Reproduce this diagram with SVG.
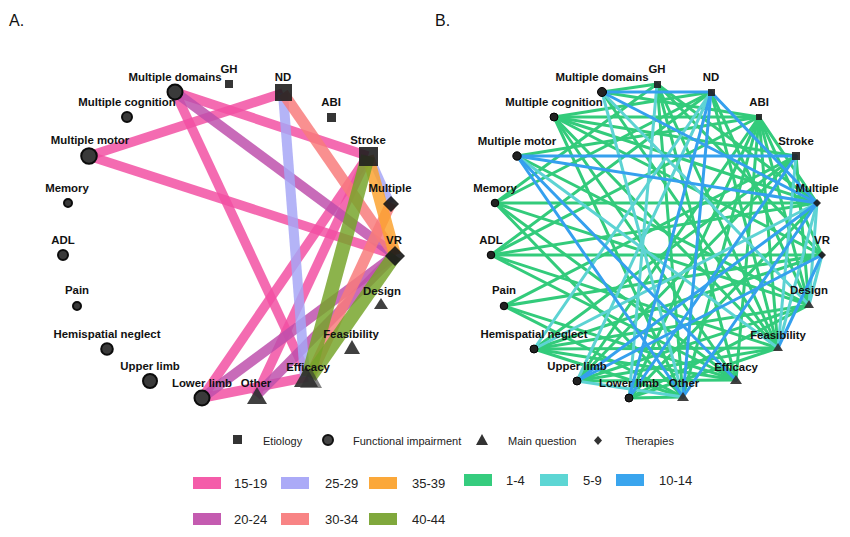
<svg xmlns="http://www.w3.org/2000/svg" width="850" height="537" viewBox="0 0 850 537">
<style>
text{font-family:"Liberation Sans",Arial,sans-serif;fill:#111}
.lb{font-size:11.4px;font-weight:bold;text-anchor:middle}
.ttl{font-size:16px}
.lg{font-size:11px;fill:#222}
.lr{font-size:13px;fill:#222}
.ea line{stroke-opacity:.84;stroke-linecap:butt}
.p1{stroke:#f24fa2;stroke-width:9.5}
.p2{stroke:#bd4fab;stroke-width:10}
.p3{stroke:#a6a6f6;stroke-width:10}
.p4{stroke:#f87b7b;stroke-width:11}
.p5{stroke:#fba22e;stroke-width:12}
.p6{stroke:#76a42a;stroke-width:14}
.eb line{stroke-width:3;stroke-linecap:round}
.g{stroke:#33cb7b}
.t{stroke:#5dd3d3}
.b{stroke:#35a0ee;stroke-width:3.5}
.ci{fill:#3a3a3a;stroke:#0c0c0c;stroke-width:2}
.sq{fill:#1f1f1f;fill-opacity:.9}
.tr{fill:#303030;fill-opacity:.92}
.dm{fill:#1a1a1a;fill-opacity:.92}
.cb{fill:#222;stroke:#000;stroke-width:1}
</style>
<rect width="850" height="537" fill="#fff"/>
<text class="ttl" x="9" y="26">A.</text>
<text class="ttl" x="435" y="26">B.</text>

<g id="edges-A" class="ea">
<line class="p1" x1="175" y1="92" x2="368" y2="156"/>
<line class="p1" x1="175" y1="92" x2="308" y2="377"/>
<line class="p1" x1="283" y1="93" x2="89" y2="156"/>
<line class="p1" x1="89" y1="156" x2="395" y2="255"/>
<line class="p1" x1="202" y1="398" x2="368" y2="156"/>
<line class="p1" x1="256" y1="396" x2="368" y2="156"/>
<line class="p1" x1="202" y1="398" x2="308" y2="377"/>
<line class="p2" x1="175" y1="92" x2="395" y2="255"/>
<line class="p2" x1="202" y1="398" x2="395" y2="255"/>
<line class="p2" x1="256" y1="396" x2="395" y2="255"/>
<line class="p3" x1="283" y1="93" x2="305" y2="377"/>
<line class="p3" x1="370" y1="156" x2="391" y2="203" style="stroke-width:7"/>
<line class="p4" x1="283" y1="93" x2="395" y2="255"/>
<line class="p4" x1="391" y1="203" x2="310" y2="377"/>
<line class="p5" x1="368" y1="156" x2="395" y2="255"/>
<line class="p6" x1="368" y1="156" x2="308" y2="377"/>
<line class="p6" x1="395" y1="255" x2="310" y2="377"/>
</g>

<g id="edges-B" class="eb">
<line class="g" x1="602" y1="92" x2="657" y2="84"/>
<line class="g" x1="602" y1="92" x2="759" y2="117"/>
<line class="g" x1="602" y1="92" x2="778" y2="348"/>
<line class="g" x1="554" y1="117" x2="711" y2="92"/>
<line class="g" x1="554" y1="117" x2="759" y2="117"/>
<line class="g" x1="554" y1="117" x2="796" y2="156"/>
<line class="g" x1="554" y1="117" x2="817" y2="203"/>
<line class="g" x1="554" y1="117" x2="822" y2="255"/>
<line class="g" x1="554" y1="117" x2="778" y2="348"/>
<line class="g" x1="554" y1="117" x2="736" y2="380"/>
<line class="g" x1="554" y1="117" x2="683" y2="397"/>
<line class="g" x1="517" y1="156" x2="759" y2="117"/>
<line class="g" x1="517" y1="156" x2="809" y2="305"/>
<line class="g" x1="495" y1="203" x2="657" y2="84"/>
<line class="g" x1="495" y1="203" x2="711" y2="92"/>
<line class="g" x1="495" y1="203" x2="817" y2="203"/>
<line class="g" x1="495" y1="203" x2="809" y2="305"/>
<line class="g" x1="495" y1="203" x2="736" y2="380"/>
<line class="g" x1="495" y1="203" x2="683" y2="397"/>
<line class="g" x1="491" y1="255" x2="711" y2="92"/>
<line class="g" x1="491" y1="255" x2="759" y2="117"/>
<line class="g" x1="491" y1="255" x2="817" y2="203"/>
<line class="g" x1="491" y1="255" x2="822" y2="255"/>
<line class="g" x1="491" y1="255" x2="778" y2="348"/>
<line class="g" x1="491" y1="255" x2="736" y2="380"/>
<line class="g" x1="504" y1="306" x2="796" y2="156"/>
<line class="g" x1="504" y1="306" x2="822" y2="255"/>
<line class="g" x1="504" y1="306" x2="736" y2="380"/>
<line class="g" x1="504" y1="306" x2="683" y2="397"/>
<line class="g" x1="534" y1="349" x2="796" y2="156"/>
<line class="g" x1="534" y1="349" x2="822" y2="255"/>
<line class="g" x1="534" y1="349" x2="809" y2="305"/>
<line class="g" x1="534" y1="349" x2="778" y2="348"/>
<line class="g" x1="534" y1="349" x2="736" y2="380"/>
<line class="g" x1="534" y1="349" x2="683" y2="397"/>
<line class="g" x1="577" y1="381" x2="796" y2="156"/>
<line class="g" x1="577" y1="381" x2="809" y2="305"/>
<line class="g" x1="577" y1="381" x2="778" y2="348"/>
<line class="g" x1="577" y1="381" x2="736" y2="380"/>
<line class="g" x1="577" y1="381" x2="759" y2="117"/>
<line class="g" x1="629" y1="398" x2="759" y2="117"/>
<line class="g" x1="629" y1="398" x2="817" y2="203"/>
<line class="g" x1="629" y1="398" x2="809" y2="305"/>
<line class="g" x1="629" y1="398" x2="778" y2="348"/>
<line class="g" x1="629" y1="398" x2="683" y2="397"/>
<line class="g" x1="657" y1="84" x2="817" y2="203"/>
<line class="g" x1="657" y1="84" x2="822" y2="255"/>
<line class="g" x1="657" y1="84" x2="736" y2="380"/>
<line class="g" x1="657" y1="84" x2="683" y2="397"/>
<line class="g" x1="657" y1="84" x2="778" y2="348"/>
<line class="g" x1="711" y1="92" x2="809" y2="305"/>
<line class="g" x1="711" y1="92" x2="778" y2="348"/>
<line class="g" x1="759" y1="117" x2="817" y2="203"/>
<line class="g" x1="759" y1="117" x2="822" y2="255"/>
<line class="g" x1="759" y1="117" x2="809" y2="305"/>
<line class="g" x1="759" y1="117" x2="778" y2="348"/>
<line class="g" x1="759" y1="117" x2="736" y2="380"/>
<line class="g" x1="759" y1="117" x2="683" y2="397"/>
<line class="g" x1="796" y1="156" x2="809" y2="305"/>
<line class="t" x1="602" y1="92" x2="809" y2="305"/>
<line class="t" x1="602" y1="92" x2="683" y2="397"/>
<line class="t" x1="517" y1="156" x2="778" y2="348"/>
<line class="t" x1="534" y1="349" x2="817" y2="203"/>
<line class="t" x1="534" y1="349" x2="711" y2="92"/>
<line class="t" x1="577" y1="381" x2="711" y2="92"/>
<line class="t" x1="577" y1="381" x2="683" y2="397"/>
<line class="t" x1="629" y1="398" x2="657" y2="84"/>
<line class="t" x1="796" y1="156" x2="778" y2="348"/>
<line class="t" x1="817" y1="203" x2="809" y2="305"/>
<line class="t" x1="817" y1="203" x2="778" y2="348"/>
<line class="t" x1="822" y1="255" x2="809" y2="305"/>
<line class="b" x1="602" y1="92" x2="711" y2="92"/>
<line class="b" x1="602" y1="92" x2="817" y2="203"/>
<line class="b" x1="517" y1="156" x2="796" y2="156"/>
<line class="b" x1="517" y1="156" x2="817" y2="203"/>
<line class="b" x1="517" y1="156" x2="736" y2="380"/>
<line class="b" x1="517" y1="156" x2="683" y2="397"/>
<line class="b" x1="577" y1="381" x2="817" y2="203"/>
<line class="b" x1="577" y1="381" x2="822" y2="255"/>
<line class="b" x1="629" y1="398" x2="711" y2="92"/>
<line class="b" x1="629" y1="398" x2="796" y2="156"/>
<line class="b" x1="711" y1="92" x2="817" y2="203"/>
<line class="b" x1="711" y1="92" x2="683" y2="397"/>
<line class="b" x1="817" y1="203" x2="683" y2="397"/>
<line class="b" x1="822" y1="255" x2="778" y2="348"/>
</g>

<g id="A-GH"><rect class="sq" x="225" y="80" width="8" height="8"/><text class="lb" x="229" y="73">GH</text></g>
<g id="A-ND"><rect class="sq" x="275" y="84" width="17" height="17"/><text class="lb" x="283" y="81">ND</text></g>
<g id="A-ABI"><rect class="sq" x="327" y="113" width="9" height="9"/><text class="lb" x="331" y="106">ABI</text></g>
<g id="A-Stroke"><rect class="sq" x="359" y="147" width="19" height="19"/><text class="lb" x="368" y="144">Stroke</text></g>
<g id="A-Multiple"><polygon class="dm" points="391,196 399,204 391,212 383,204"/><text class="lb" x="390" y="192">Multiple</text></g>
<g id="A-VR"><polygon class="dm" points="395,246 405,256 395,266 385,256"/><text class="lb" x="394" y="244">VR</text></g>
<g id="A-Design"><polygon class="tr" points="381,298 388,309 374,309"/><text class="lb" x="382" y="295">Design</text></g>
<g id="A-Feasibility"><polygon class="tr" points="352,340 360,354 344,354"/><text class="lb" x="351" y="338">Feasibility</text></g>
<g id="A-Efficacy"><polygon class="tr" points="306,366 318,387 294,387"/><polygon class="tr" points="311,368 322,388 300,388" style="fill-opacity:.6"/><text class="lb" x="308" y="371">Efficacy</text></g>
<g id="A-Other"><polygon class="tr" points="257,387 267,404 247,404"/><text class="lb" x="256" y="387">Other</text></g>
<g id="A-Lower-limb"><circle class="ci" cx="202" cy="398" r="7.5"/><text class="lb" x="202" y="387">Lower limb</text></g>
<g id="A-Upper-limb"><circle class="ci" cx="150" cy="381" r="7"/><text class="lb" x="150" y="370">Upper limb</text></g>
<g id="A-Hemispatial-neglect"><circle class="ci" cx="107" cy="349" r="5.8"/><text class="lb" x="107" y="338">Hemispatial neglect</text></g>
<g id="A-Pain"><circle class="ci" cx="77" cy="306" r="4"/><text class="lb" x="77" y="294">Pain</text></g>
<g id="A-ADL"><circle class="ci" cx="63" cy="255" r="5"/><text class="lb" x="63" y="244">ADL</text></g>
<g id="A-Memory"><circle class="ci" cx="68" cy="203" r="4"/><text class="lb" x="67" y="192">Memory</text></g>
<g id="A-Multiple-motor"><circle class="ci" cx="89" cy="156" r="7.8"/><text class="lb" x="90" y="144">Multiple motor</text></g>
<g id="A-Multiple-cognition"><circle class="ci" cx="127" cy="117" r="5"/><text class="lb" x="127" y="106">Multiple cognition</text></g>
<g id="A-Multiple-domains"><circle class="ci" cx="175" cy="92" r="7.5"/><text class="lb" x="175" y="81">Multiple domains</text></g>

<g id="B-GH"><rect class="sq" x="654" y="81" width="7" height="7"/><text class="lb" x="657" y="73">GH</text></g>
<g id="B-ND"><rect class="sq" x="708" y="89" width="7" height="7"/><text class="lb" x="711" y="81">ND</text></g>
<g id="B-ABI"><rect class="sq" x="756" y="114" width="6" height="6"/><text class="lb" x="759" y="106">ABI</text></g>
<g id="B-Stroke"><rect class="sq" x="792" y="152" width="8" height="8"/><text class="lb" x="796" y="145">Stroke</text></g>
<g id="B-Multiple"><polygon class="dm" points="817,199 821,203 817,207 813,203"/><text class="lb" x="817" y="192">Multiple</text></g>
<g id="B-VR"><polygon class="dm" points="822,251 826,255 822,259 818,255"/><text class="lb" x="822" y="244">VR</text></g>
<g id="B-Design"><polygon class="tr" points="809,300 814,308 804,308"/><text class="lb" x="809" y="294">Design</text></g>
<g id="B-Feasibility"><polygon class="tr" points="778,343 783,351 773,351"/><text class="lb" x="778" y="339">Feasibility</text></g>
<g id="B-Efficacy"><polygon class="tr" points="736,375 742,384 730,384"/><text class="lb" x="736" y="371">Efficacy</text></g>
<g id="B-Other"><polygon class="tr" points="683,392 689,401 677,401"/><text class="lb" x="684" y="387">Other</text></g>
<g id="B-Lower-limb"><circle class="cb" cx="629" cy="398" r="4"/><text class="lb" x="629" y="387">Lower limb</text></g>
<g id="B-Upper-limb"><circle class="cb" cx="577" cy="381" r="4"/><text class="lb" x="577" y="370">Upper limb</text></g>
<g id="B-Hemispatial-neglect"><circle class="cb" cx="534" cy="349" r="4"/><text class="lb" x="534" y="338">Hemispatial neglect</text></g>
<g id="B-Pain"><circle class="cb" cx="504" cy="306" r="3.8"/><text class="lb" x="504" y="294">Pain</text></g>
<g id="B-ADL"><circle class="cb" cx="491" cy="255" r="3.8"/><text class="lb" x="491" y="244">ADL</text></g>
<g id="B-Memory"><circle class="cb" cx="495" cy="203" r="3.8"/><text class="lb" x="495" y="192">Memory</text></g>
<g id="B-Multiple-motor"><circle class="cb" cx="517" cy="156" r="4.2"/><text class="lb" x="517" y="145">Multiple motor</text></g>
<g id="B-Multiple-cognition"><circle class="cb" cx="554" cy="117" r="4"/><text class="lb" x="554" y="106">Multiple cognition</text></g>
<g id="B-Multiple-domains"><circle class="cb" cx="602" cy="92" r="4.5"/><text class="lb" x="602" y="81">Multiple domains</text></g>

<g id="legend">
<rect x="233" y="435" width="9" height="9" fill="#333"/>
<text class="lg" x="263" y="445">Etiology</text>
<circle cx="328" cy="440" r="5" fill="#444" stroke="#111" stroke-width="2"/>
<text class="lg" x="353" y="445">Functional impairment</text>
<polygon points="482,434 488,445 476,445" fill="#333"/>
<text class="lg" x="508" y="445">Main question</text>
<polygon points="598,436 602,440.5 598,445 594,440.5" fill="#333"/>
<text class="lg" x="625" y="445">Therapies</text>
<rect x="193" y="477" width="28" height="12" fill="#f45ca9"/>
<text class="lr" x="234" y="488">15-19</text>
<rect x="281" y="477" width="28" height="12" fill="#abaaf7"/>
<text class="lr" x="325" y="488">25-29</text>
<rect x="369" y="477" width="28" height="12" fill="#fba83a"/>
<text class="lr" x="412" y="488">35-39</text>
<rect x="464" y="474" width="28" height="12" fill="#35cc7e"/>
<text class="lr" x="506" y="485">1-4</text>
<rect x="540" y="474" width="28" height="12" fill="#5dd6d4"/>
<text class="lr" x="583" y="485">5-9</text>
<rect x="616" y="474" width="28" height="12" fill="#3aa5ee"/>
<text class="lr" x="659" y="485">10-14</text>
<rect x="193" y="513" width="28" height="12" fill="#c45bb0"/>
<text class="lr" x="234" y="524">20-24</text>
<rect x="281" y="513" width="28" height="12" fill="#f88485"/>
<text class="lr" x="325" y="524">30-34</text>
<rect x="369" y="513" width="28" height="12" fill="#80a83c"/>
<text class="lr" x="412" y="524">40-44</text>
</g>
</svg>
